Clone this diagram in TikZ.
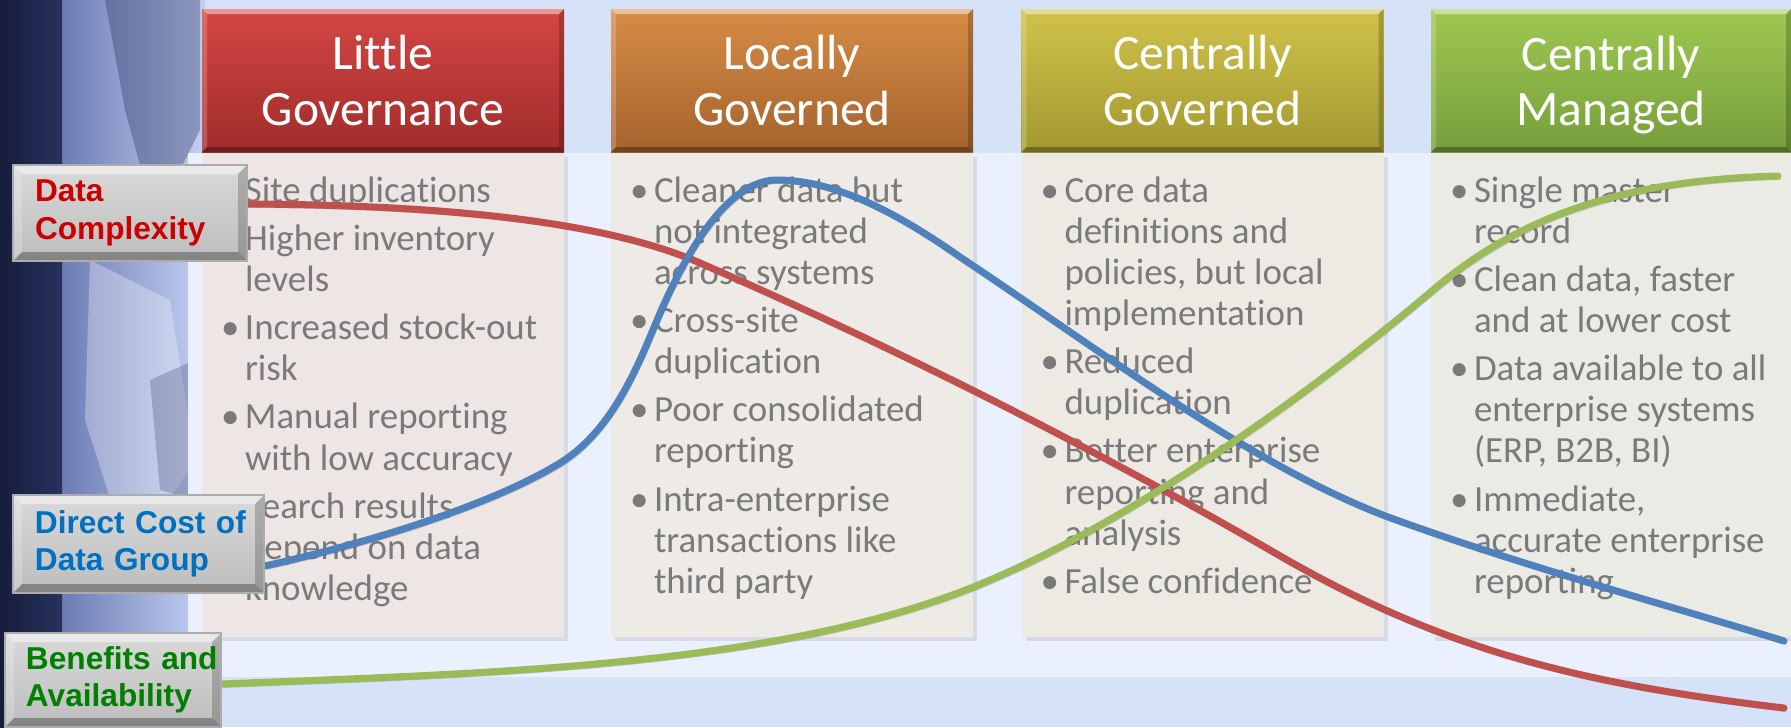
\documentclass[tikz,border=0pt]{standalone}
\usepackage{fontspec}
\setmainfont{Carlito}[Ligatures=NoCommon]
\newfontfamily\lblfont{Liberation Sans}
\usetikzlibrary{positioning,shadows}

\definecolor{bgblue}{HTML}{D6E2F8}
\definecolor{bandblue}{HTML}{EAF0FD}
\definecolor{navyA}{HTML}{161C3A}
\definecolor{navyB}{HTML}{27325E}
\definecolor{patA}{HTML}{6878B2}
\definecolor{patB}{HTML}{C4D0F2}
\definecolor{txtgray}{HTML}{7A7A7A}
\definecolor{crvred}{HTML}{C0504D}
\definecolor{crvblue}{HTML}{4F81BD}
\definecolor{crvgreen}{HTML}{9BBB59}
\definecolor{lblred}{HTML}{CC0000}
\definecolor{lblblue}{HTML}{0070C0}
\definecolor{lblgreen}{HTML}{008000}
\definecolor{lblhi}{HTML}{D9D9D9}
\definecolor{lbllo}{HTML}{BDBDBD}

\newcommand{\blt}{\strut\makebox[0.21cm][l]{\hspace*{-0.03cm}\textbullet}}
\newcommand{\cnt}{\hspace*{0.21cm}}

\tikzset{
  bevel/.style={path picture={
    \fill[white,opacity=.45] (path picture bounding box.north west) -- (path picture bounding box.north east)
      -- ([shift={(-#1,-#1)}]path picture bounding box.north east) -- ([shift={(#1,-#1)}]path picture bounding box.north west) -- cycle;
    \fill[white,opacity=.2] (path picture bounding box.north west) -- ([shift={(#1,-#1)}]path picture bounding box.north west)
      -- ([shift={(#1,#1)}]path picture bounding box.south west) -- (path picture bounding box.south west) -- cycle;
    \fill[black,opacity=.2] (path picture bounding box.north east) -- ([shift={(-#1,-#1)}]path picture bounding box.north east)
      -- ([shift={(-#1,#1)}]path picture bounding box.south east) -- (path picture bounding box.south east) -- cycle;
    \fill[black,opacity=.3] (path picture bounding box.south west) -- ([shift={(#1,#1)}]path picture bounding box.south west)
      -- ([shift={(-#1,#1)}]path picture bounding box.south east) -- (path picture bounding box.south east) -- cycle;
  }},
  hdr/.style={minimum width=3.62cm, minimum height=1.43cm, inner sep=0pt, align=center,
    text=white, font=\fontsize{14.1}{15.7}\selectfont, bevel=0.05cm},
  bodybox/.style={minimum width=3.62cm, minimum height=4.84cm, inner sep=0pt,
    drop shadow={opacity=.18, shadow xshift=.04cm, shadow yshift=-.04cm}},
  bodytext/.style={anchor=north west, inner sep=0pt, align=left, text=txtgray,
    font=\fontsize{10.5}{11.7}\selectfont},
  lbl/.style={inner xsep=0.22cm, inner ysep=0pt, align=left, top color=lblhi, bottom color=lbllo,
    draw=gray!65, font=\lblfont\bfseries\fontsize{9}{10.6}\selectfont, bevel=0.09cm},
  crv/.style={line width=2pt, line cap=round,
    preaction={draw=black, opacity=.18, transform canvas={xshift=0.6pt,yshift=-0.9pt}}},
}

\begin{document}
\begin{tikzpicture}
\useasboundingbox (0,0) rectangle (17.91,-7.27);

% background
\fill[bgblue] (0,0) rectangle (17.91,-7.27);
\shade[left color=patA, right color=patB] (0.55,0) rectangle (2.05,-7.27);
\fill[navyB,opacity=.35] (1.05,0) -- (2.0,0) -- (2.0,-1.3) -- (1.55,-2.2) -- (1.25,-1.1) -- cycle;
\fill[white,opacity=.3] (0.9,-2.6) -- (1.7,-3.0) -- (1.95,-4.6) -- (1.3,-5.6) -- (0.85,-4.2) -- cycle;
\fill[navyB,opacity=.25] (1.5,-3.8) -- (1.95,-3.6) -- (1.95,-5.0) -- (1.6,-4.9) -- cycle;
\shade[left color=navyA, right color=navyB] (0,0) rectangle (0.62,-7.27);
\fill[bandblue] (1.88,-1.53) rectangle (17.91,-6.77);

% column heads
\node[hdr, top color={rgb,255:red,212;green,70;blue,68}, bottom color={rgb,255:red,160;green,44;blue,42}]
  (hlittle) at (3.83,-0.805) {Little\\Governance};
\node[hdr, top color={rgb,255:red,214;green,140;blue,70}, bottom color={rgb,255:red,164;green,98;blue,44}]
  (hlocal) at (7.92,-0.805) {Locally\\Governed};
\node[hdr, top color={rgb,255:red,208;green,194;blue,74}, bottom color={rgb,255:red,162;green,152;blue,48}]
  (hcentral) at (12.025,-0.805) {Centrally\\Governed};
\node[hdr, minimum width=3.60cm, top color={rgb,255:red,158;green,200;blue,80}, bottom color={rgb,255:red,118;green,158;blue,60}]
  (hmanaged) at (16.11,-0.805) {Centrally\\\raisebox{0pt}[\height][0pt]{Managed}};

% column bodies
\node[bodybox, fill={rgb,255:red,238;green,230;blue,229}, below=0pt of hlittle] (blittle) {};
\node[bodybox, fill={rgb,255:red,238;green,235;blue,230}, below=0pt of hlocal] (blocal) {};
\node[bodybox, fill={rgb,255:red,236;green,234;blue,227}, below=0pt of hcentral] (bcentral) {};
\node[bodybox, minimum width=3.60cm, fill={rgb,255:red,233;green,235;blue,228}, below=0pt of hmanaged] (bmanaged) {};

\node[bodytext] (tlittle) at ([xshift=0.22cm,yshift=-0.20cm]blittle.north west)
  {\blt Site duplications\\[2pt]
   \blt Higher inventory\\ \cnt levels\\[2pt]
   \blt Increased stock-out\\ \cnt risk\\[2pt]
   \blt Manual reporting\\ \cnt with low accuracy\\[2pt]
   \blt Search results\\ \cnt depend on data\\ \cnt knowledge};
\node[bodytext] (tlocal) at ([xshift=0.22cm,yshift=-0.20cm]blocal.north west)
  {\blt Cleaner data but\\ \cnt not integrated\\ \cnt across systems\\[2pt]
   \blt Cross-site\\ \cnt duplication\\[2pt]
   \blt Poor consolidated\\ \cnt reporting\\[2pt]
   \blt Intra-enterprise\\ \cnt transactions like\\ \cnt third party};
\node[bodytext] (tcentral) at ([xshift=0.22cm,yshift=-0.20cm]bcentral.north west)
  {\blt Core data\\ \cnt definitions and\\ \cnt policies, but local\\ \cnt implementation\\[2pt]
   \blt Reduced\\ \cnt duplication\\[2pt]
   \blt Better enterprise\\ \cnt reporting and\\ \cnt analysis\\[2pt]
   \blt False confidence};
\node[bodytext] (tmanaged) at ([xshift=0.22cm,yshift=-0.20cm]bmanaged.north west)
  {\blt Single master\\ \cnt record\\[2pt]
   \blt Clean data, faster\\ \cnt and at lower cost\\[2pt]
   \blt Data available to all\\ \cnt enterprise systems\\ \cnt (ERP, B2B, BI)\\[2pt]
   \blt Immediate,\\ \cnt accurate enterprise\\ \cnt reporting};

% row labels (placed first so the curves can start on them)
\node[lbl, text=lblred, text width=1.90cm, minimum width=2.34cm, minimum height=0.96cm]
  (cplx) at (1.30,-2.13) {\mbox{Data}\\\mbox{Complexity}};
\node[lbl, text=lblblue, text width=2.07cm, minimum width=2.51cm, minimum height=0.98cm]
  (cost) at (1.385,-5.44) {\mbox{Direct Cost of}\\\mbox{Data Group}};
\node[lbl, text=lblgreen, inner xsep=0.21cm, text width=1.74cm, minimum width=2.16cm, minimum height=0.94cm]
  (bnft) at (1.13,-6.80) {\mbox{Benefits and}\\\mbox{Availability}};

% curves
\coordinate (redend) at (17.84,-7.08);
\coordinate (blueend) at (17.84,-6.41);
\coordinate (greenend) at (17.78,-1.76);

\draw[crv, crvred] ([yshift=0.09cm]cplx.east)
  .. controls (4.50,-2.05) and (6.00,-2.22) .. (6.93,-2.60)
  .. controls (8.83,-3.42) and (10.85,-4.43) .. (12.75,-5.53)
  .. controls (14.45,-6.52) and (15.84,-6.84) .. (redend);
\draw[crv, crvblue] ([yshift=-0.22cm]cost.east)
  .. controls (3.64,-5.44) and (4.90,-5.06) .. (5.60,-4.63)
  .. controls (6.10,-4.32) and (6.35,-3.73) .. (6.55,-3.25)
  .. controls (6.85,-2.53) and (7.27,-1.80) .. (7.77,-1.80)
  .. controls (8.37,-1.80) and (9.00,-2.15) .. (9.60,-2.57)
  .. controls (11.00,-3.50) and (12.50,-4.65) .. (13.88,-5.17)
  .. controls (15.20,-5.65) and (16.50,-6.00) .. (blueend);
\draw[crv, crvgreen] ([yshift=-0.04cm]bnft.east)
  .. controls (4.71,-6.74) and (7.44,-6.68) .. (9.44,-5.98)
  .. controls (11.04,-5.42) and (13.03,-4.00) .. (14.33,-2.90)
  .. controls (15.23,-2.135) and (16.28,-1.80) .. (greenend);

% labels again on top of the curve ends
\node[lbl, text=lblred, text width=1.90cm, minimum width=2.34cm, minimum height=0.96cm]
  at (cplx) {\mbox{Data}\\\mbox{Complexity}};
\node[lbl, text=lblblue, text width=2.07cm, minimum width=2.51cm, minimum height=0.98cm]
  at (cost) {\mbox{Direct Cost of}\\\mbox{Data Group}};
\node[lbl, text=lblgreen, inner xsep=0.21cm, text width=1.74cm, minimum width=2.16cm, minimum height=0.94cm]
  at (bnft) {\mbox{Benefits and}\\\mbox{Availability}};
\end{tikzpicture}
\end{document}
